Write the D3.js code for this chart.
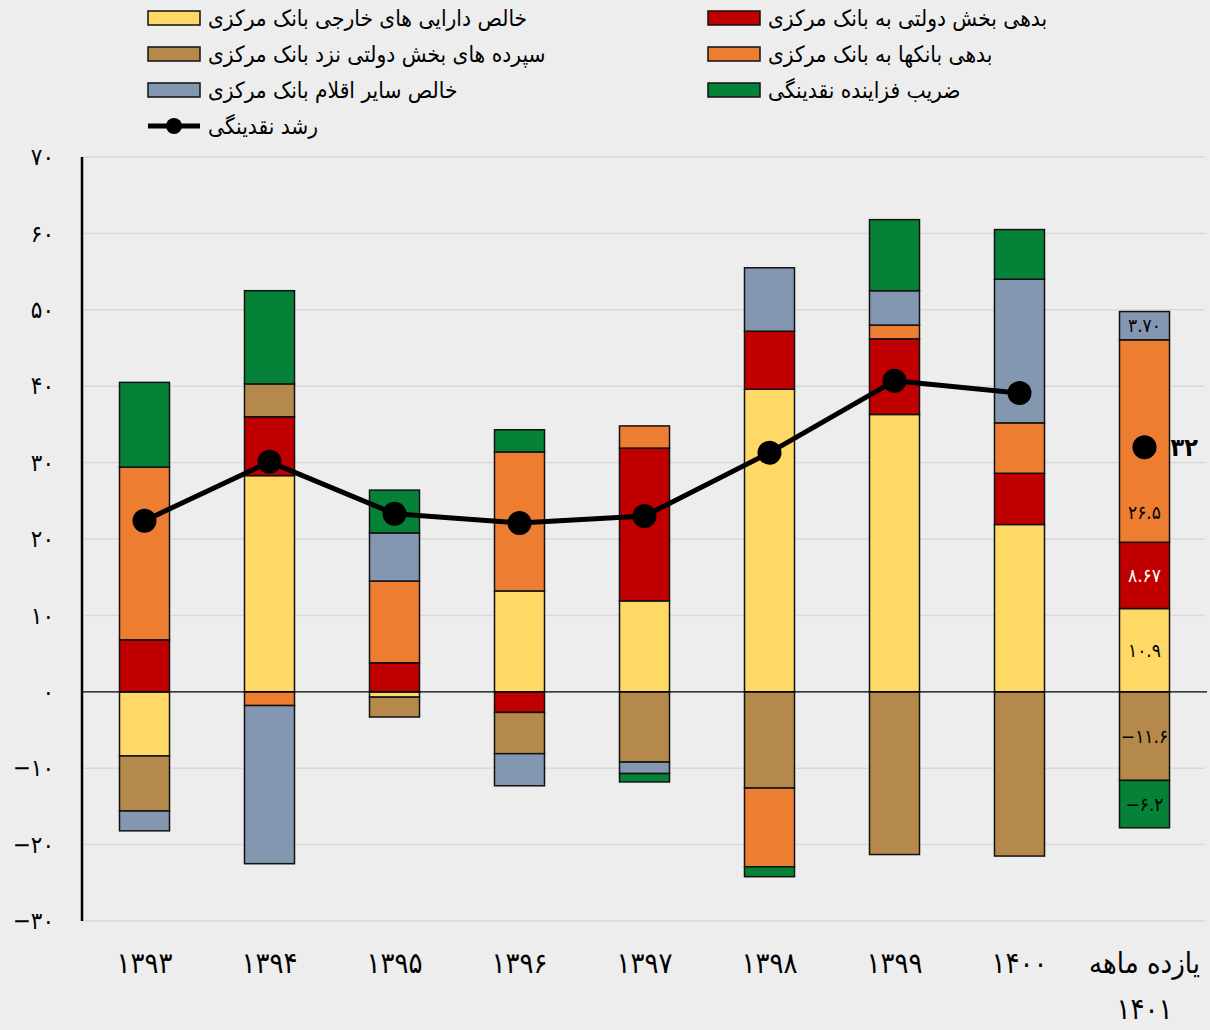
<!DOCTYPE html>
<html>
<head>
<meta charset="utf-8">
<script src="https://cdn.jsdelivr.net/npm/d3@7"></script>
<style>
  body { margin: 0; background: #ededed; }
  svg { display: block; background: #ededed; }
  text { font-family: "DejaVu Sans Condensed", "DejaVu Sans", sans-serif; fill: #000; }
</style>
</head>
<body>
<div id="chart"></div>
<script>
// categories (years)
const years = ["۱۳۹۳", "۱۳۹۴", "۱۳۹۵", "۱۳۹۶", "۱۳۹۷", "۱۳۹۸", "۱۳۹۹", "۱۴۰۰", "یازده ماهه|۱۴۰۱"];

// series values, in stacking order
const foreignAssets = [-8.4, 28.3, -0.7, 13.2, 11.9, 39.6, 36.3, 21.9, 10.9];
const govDebt       = [6.8, 7.7, 3.8, -2.7, 20.0, 7.6, 9.9, 6.7, 8.67];
const govDeposits   = [-7.2, 4.3, -2.6, -5.4, -9.2, -12.6, -21.3, -21.5, -11.6];
const bankDebt      = [22.6, -1.8, 10.7, 18.2, 2.9, -10.3, 1.8, 6.6, 26.5];
const otherItems    = [-2.6, -20.7, 6.3, -4.2, -1.5, 8.3, 4.5, 18.8, 3.7];
const multiplier    = [11.1, 12.2, 5.6, 2.9, -1.1, -1.3, 9.3, 6.5, -6.2];
const growth        = [22.4, 30.1, 23.3, 22.1, 23.0, 31.3, 40.7, 39.1, 32];

const seriesNames = [
  "خالص دارایی های خارجی بانک مرکزی",
  "بدهی بخش دولتی به بانک مرکزی",
  "سپرده های بخش دولتی نزد بانک مرکزی",
  "بدهی بانکها به بانک مرکزی",
  "خالص سایر اقلام بانک مرکزی",
  "ضریب فزاینده نقدینگی"
];
const lineName = "رشد نقدینگی";
const colors = ["#ffd966", "#c00000", "#b5894b", "#ed7d31", "#8497b0", "#068238"];

// labels shown on the last bar
const lastLabels = ["۱۰.۹", "۸.۶۷", "−۱۱.۶", "۲۶.۵", "۳.۷۰", "−۶.۲"];
const lastGrowthLabel = "۳۲";

const yTicks = [-30, -20, -10, 0, 10, 20, 30, 40, 50, 60, 70];
const faDigits = "۰۱۲۳۴۵۶۷۸۹";
function toFa(n) {
  const s = String(Math.abs(n)).replace(/[0-9]/g, function(c) { return faDigits[+c]; });
  return (n < 0 ? "−" : "") + s;
}

const width = 1210, height = 1030;
const plotLeft = 82, plotRight = 1207, plotTop = 157, plotBottom = 921;
const barWidth = 50;

const svg = d3.select("#chart").append("svg")
  .attr("width", width)
  .attr("height", height);

const x = d3.scalePoint()
  .domain(years)
  .range([plotLeft, plotRight])
  .padding(0.5);
const y = d3.scaleLinear()
  .domain([-30, 70])
  .range([plotBottom, plotTop]);

// gridlines
svg.append("g")
  .selectAll("line")
  .data(yTicks.filter(function(d) { return d !== 0; }))
  .enter().append("line")
  .attr("x1", plotLeft).attr("x2", plotRight - 2)
  .attr("y1", function(d) { return y(d); })
  .attr("y2", function(d) { return y(d); })
  .attr("stroke", "#d9d9d9")
  .attr("stroke-width", 1.5);

// y axis labels
const yAxis = d3.axisLeft(y)
  .tickValues(yTicks)
  .tickSize(0)
  .tickPadding(28)
  .tickFormat(toFa);
const yAxisGroup = svg.append("g")
  .attr("transform", "translate(" + plotLeft + ",0)")
  .call(yAxis);
yAxisGroup.select(".domain").remove();
yAxisGroup.selectAll("text")
  .style("font-size", "24px")
  .style("font-family", "\"DejaVu Sans Condensed\", \"DejaVu Sans\", sans-serif");

// stacked bars
const table = years.map(function(yr, i) {
  return {
    year: yr,
    s0: foreignAssets[i], s1: govDebt[i], s2: govDeposits[i],
    s3: bankDebt[i], s4: otherItems[i], s5: multiplier[i]
  };
});
const keys = ["s0", "s1", "s2", "s3", "s4", "s5"];
const stack = d3.stack().keys(keys).offset(d3.stackOffsetDiverging);
const layers = stack(table);

const layerGroups = svg.append("g")
  .selectAll("g")
  .data(layers)
  .enter().append("g")
  .attr("fill", function(d, i) { return colors[i]; });

layerGroups.selectAll("rect")
  .data(function(d) { return d.filter(function(p) { return p[1] !== p[0]; }); })
  .enter().append("rect")
  .attr("x", function(d) { return x(d.data.year) - barWidth / 2; })
  .attr("width", barWidth)
  .attr("y", function(d) { return y(Math.max(d[0], d[1])); })
  .attr("height", function(d) { return Math.abs(y(d[0]) - y(d[1])); })
  .attr("stroke", "#111")
  .attr("stroke-width", 1.5);

// zero line
svg.append("line")
  .attr("x1", plotLeft).attr("x2", plotRight)
  .attr("y1", y(0)).attr("y2", y(0))
  .attr("stroke", "#000")
  .attr("stroke-width", 1.2);

// y axis line
svg.append("line")
  .attr("x1", plotLeft).attr("x2", plotLeft)
  .attr("y1", plotTop).attr("y2", plotBottom)
  .attr("stroke", "#000")
  .attr("stroke-width", 2.5);

// labels on last bar
const lastYear = years[years.length - 1];
layers.forEach(function(layer, i) {
  const d = layer[layer.length - 1];
  let cy = (y(d[0]) + y(d[1])) / 2;
  if (i === 3) cy = y(Math.min(d[0], d[1])) - 30; // keep clear of the growth marker
  svg.append("text")
    .attr("x", x(lastYear))
    .attr("y", cy)
    .attr("dy", "0.35em")
    .attr("text-anchor", "middle")
    .style("font-size", "19px")
    .style("fill", i === 1 ? "#fff" : "#000")
    .text(lastLabels[i]);
});

// growth line
const line = d3.line()
  .x(function(d, i) { return x(years[i]); })
  .y(function(d) { return y(d); });
svg.append("path")
  .datum(growth.slice(0, growth.length - 1))
  .attr("d", line)
  .attr("fill", "none")
  .attr("stroke", "#000")
  .attr("stroke-width", 5)
  .attr("stroke-linejoin", "round");
svg.append("g")
  .selectAll("circle")
  .data(growth)
  .enter().append("circle")
  .attr("cx", function(d, i) { return x(years[i]); })
  .attr("cy", function(d) { return y(d); })
  .attr("r", 12)
  .attr("fill", "#000");
svg.append("text")
  .attr("x", x(lastYear) + 26)
  .attr("y", y(growth[growth.length - 1]))
  .attr("dy", "0.35em")
  .style("font-size", "25px")
  .style("font-weight", "bold")
  .text(lastGrowthLabel);

// x labels
const xLabels = svg.append("g")
  .selectAll("text")
  .data(years)
  .enter().append("text")
  .attr("x", function(d) { return x(d); })
  .attr("y", 963)
  .attr("text-anchor", "middle")
  .style("font-size", "29px");
xLabels.each(function(d) {
  const parts = d.split("|");
  d3.select(this).selectAll("tspan")
    .data(parts)
    .enter().append("tspan")
    .attr("x", x(d))
    .attr("dy", function(p, j) { return j === 0 ? "0.35em" : 46; })
    .text(function(p) { return p; });
});

// legend
const legendItems = seriesNames.map(function(name, i) {
  return { name: name, color: colors[i], col: i % 2, row: Math.floor(i / 2) };
});
const legend = svg.append("g");
const legendCols = [148, 708];
const legendRows = [18, 54, 90, 126];
legendItems.forEach(function(item) {
  const lx = legendCols[item.col], ly = legendRows[item.row];
  legend.append("rect")
    .attr("x", lx).attr("y", ly - 7)
    .attr("width", 52).attr("height", 14)
    .attr("fill", item.color)
    .attr("stroke", "#111")
    .attr("stroke-width", 1.5);
  legend.append("text")
    .attr("x", lx + 60).attr("y", ly)
    .attr("dy", "0.35em")
    .style("font-size", "22.5px")
    .text(item.name);
});
legend.append("line")
  .attr("x1", 148).attr("x2", 200)
  .attr("y1", legendRows[3]).attr("y2", legendRows[3])
  .attr("stroke", "#000").attr("stroke-width", 5);
legend.append("circle")
  .attr("cx", 174).attr("cy", legendRows[3]).attr("r", 8).attr("fill", "#000");
legend.append("text")
  .attr("x", 208).attr("y", legendRows[3])
  .attr("dy", "0.35em")
  .style("font-size", "22.5px")
  .text(lineName);
</script>
</body>
</html>
